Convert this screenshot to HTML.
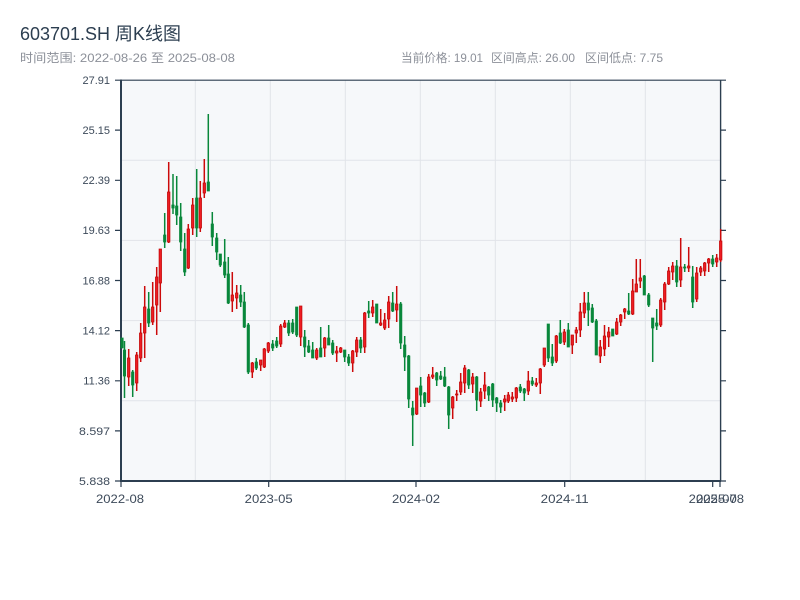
<!DOCTYPE html>
<html><head><meta charset="utf-8"><style>
html,body{margin:0;padding:0;background:#fff;}
svg{display:block;}
text{font-family:"Liberation Sans","Noto Sans CJK SC",sans-serif;}
</style></head><body>
<svg width="800" height="600" viewBox="0 0 800 600" xmlns="http://www.w3.org/2000/svg">
<rect width="800" height="600" fill="#fff"/>
<text x="20" y="40" font-size="18" fill="#2c3e50" textLength="161" lengthAdjust="spacingAndGlyphs">603701.SH 周K线图</text>
<text x="20" y="62" font-size="12" fill="#8c9099" textLength="215" lengthAdjust="spacingAndGlyphs">时间范围: 2022-08-26 至 2025-08-08</text>
<text x="401" y="62" font-size="12" fill="#8c9099" textLength="82" lengthAdjust="spacingAndGlyphs">当前价格: 19.01</text>
<text x="491" y="62" font-size="12" fill="#8c9099" textLength="84" lengthAdjust="spacingAndGlyphs">区间高点: 26.00</text>
<text x="585" y="62" font-size="12" fill="#8c9099" textLength="78" lengthAdjust="spacingAndGlyphs">区间低点: 7.75</text>
<rect x="121" y="80" width="600" height="401" fill="#f6f8fa"/>
<g stroke="#e1e4e9" stroke-width="1">
<path d="M195.3 80V481M270.3 80V481M345.3 80V481M420.3 80V481M495.3 80V481M570.3 80V481M645.3 80V481"/>
<path d="M121 160.2H720M121 240.4H720M121 320.6H720M121 400.8H720"/>
</g>
<g stroke="#2c3e50" fill="none">
<path d="M121 80.2H726" stroke-width="1.2"/>
<path d="M720.6 80V481" stroke-width="1.4"/>
<path d="M121 79.5V482M120 481H721" stroke-width="2"/>
<path d="M115 80.2H121M115 130.1H121M115 180.3H121M115 230.4H121M115 280.5H121M115 330.6H121M115 380.8H121M115 430.9H121M115 481H121" stroke-width="1.2"/>
<path d="M720 130.1H726M720 180.3H726M720 230.4H726M720 280.5H726M720 330.6H726M720 380.8H726M720 430.9H726M720 481H726" stroke-width="1.2"/>
<path d="M121 481V487M268.7 481V487M416 481V487M564.7 481V487M712.7 481V487M720 481V487" stroke-width="1.2"/>
</g>
<g font-size="11" fill="#3d4a5a" text-anchor="end">
<text x="110" y="84">27.91</text>
<text x="110" y="134">25.15</text>
<text x="110" y="184">22.39</text>
<text x="110" y="234">19.63</text>
<text x="110" y="284.5">16.88</text>
<text x="110" y="334.5">14.12</text>
<text x="110" y="384.5">11.36</text>
<text x="110" y="435" textLength="31" lengthAdjust="spacingAndGlyphs">8.597</text>
<text x="110" y="485" textLength="31" lengthAdjust="spacingAndGlyphs">5.838</text>
</g>
<g font-size="12" fill="#3d4a5a">
<text x="96" y="503" textLength="48" lengthAdjust="spacingAndGlyphs">2022-08</text>
<text x="244.7" y="503" textLength="48" lengthAdjust="spacingAndGlyphs">2023-05</text>
<text x="392" y="503" textLength="48" lengthAdjust="spacingAndGlyphs">2024-02</text>
<text x="540.7" y="503" textLength="48" lengthAdjust="spacingAndGlyphs">2024-11</text>
<text x="688.7" y="503" textLength="48" lengthAdjust="spacingAndGlyphs">2025-07</text>
<text x="696" y="503" textLength="48" lengthAdjust="spacingAndGlyphs">2025-08</text>
</g>
<path fill="none" stroke="#08873a" stroke-width="1.5" d="M122 338V348M124.5 341V398M132.7 370V397M148.7 292V327M164.7 213V248M173 174V214M176.7 176V225M180.7 203V251M184.7 233V276M196.7 169V237M208.3 114V191M212.3 212V246M216.7 233V260M220.3 254V267M224.7 239V278M228.3 257V304M240.7 285V307M244.3 292V328M248.3 323V374M256.3 358V370M272.7 340V351M276.7 337V348M288.7 320V336M292.7 319V334M296.7 307V337M304.7 330V357M308.7 340V353M312.7 342V358M320.7 327V357M328.7 325V345M332.7 340V355M344.7 350V362M348.7 354V366M360.7 337V353M368.7 301V318M376.7 304V323M392.7 292V312M400.7 302V349M404.7 336V371M408.7 355V408M412.7 401V446M420.7 377V407M424.7 392V407M436.7 372V386M440.7 371V380M444.7 367V387M448.7 386V429M468.7 369V389M476.7 376V411M488.7 386V401M492.7 383V407M496.7 397V412M500.7 400V413M520.3 384V393M524.3 388V401M532.3 377V386M548.3 324V362M552.3 344V366M560.3 320V344M568.3 323V347M588.3 292V326M592.3 304V323M596.3 319V355M612.7 329V336M628.7 293V315M644.3 275V295M648.7 293V307M652.7 318V362M656.7 309V330M676.7 260V287M684.7 264V272M692.7 266V308M712.7 255V267"/>
<path fill="#08873a" stroke="#08873a" stroke-width="0.7" d="M120.8 338h2.4V348h-2.4ZM123.3 350h2.4V376h-2.4ZM131.5 372h2.4V385h-2.4ZM147.5 309h2.4V323h-2.4ZM163.5 235h2.4V242h-2.4ZM171.8 205h2.4V208h-2.4ZM175.5 206h2.4V215h-2.4ZM179.5 217h2.4V242h-2.4ZM183.5 249h2.4V272h-2.4ZM195.5 198h2.4V228h-2.4ZM207.1 182h2.4V191h-2.4ZM211.1 224h2.4V237h-2.4ZM215.5 238h2.4V252h-2.4ZM219.1 254h2.4V265h-2.4ZM223.5 262h2.4V275h-2.4ZM227.1 274h2.4V303h-2.4ZM239.5 295h2.4V302h-2.4ZM243.1 302h2.4V327h-2.4ZM247.1 325h2.4V372h-2.4ZM255.1 362h2.4V368h-2.4ZM271.5 344h2.4V348h-2.4ZM275.5 341h2.4V346h-2.4ZM287.5 323h2.4V333h-2.4ZM291.5 323h2.4V332h-2.4ZM295.5 307h2.4V335h-2.4ZM303.5 337h2.4V347h-2.4ZM307.5 346h2.4V352h-2.4ZM311.5 350h2.4V358h-2.4ZM319.5 348h2.4V357h-2.4ZM327.5 338h2.4V345h-2.4ZM331.5 343h2.4V353h-2.4ZM343.5 350h2.4V357h-2.4ZM347.5 357h2.4V363h-2.4ZM359.5 340h2.4V348h-2.4ZM367.5 311h2.4V313h-2.4ZM375.5 304h2.4V323h-2.4ZM391.5 303h2.4V311h-2.4ZM399.5 304h2.4V343h-2.4ZM403.5 345h2.4V357h-2.4ZM407.5 356h2.4V399h-2.4ZM411.5 408h2.4V415h-2.4ZM419.5 386h2.4V395h-2.4ZM423.5 393h2.4V403h-2.4ZM435.5 373h2.4V380h-2.4ZM439.5 376h2.4V379h-2.4ZM443.5 377h2.4V386h-2.4ZM447.5 387h2.4V415h-2.4ZM467.5 370h2.4V385h-2.4ZM475.5 377h2.4V400h-2.4ZM487.5 387h2.4V395h-2.4ZM491.5 384h2.4V400h-2.4ZM495.5 398h2.4V403h-2.4ZM499.5 403h2.4V407h-2.4ZM519.1 387h2.4V391h-2.4ZM523.1 389h2.4V393h-2.4ZM531.1 381h2.4V384h-2.4ZM547.1 324h2.4V358h-2.4ZM551.1 357h2.4V363h-2.4ZM559.1 333h2.4V343h-2.4ZM567.1 330h2.4V347h-2.4ZM587.1 303h2.4V310h-2.4ZM591.1 308h2.4V322h-2.4ZM595.1 321h2.4V355h-2.4ZM611.5 329h2.4V336h-2.4ZM627.5 311h2.4V314h-2.4ZM643.1 276h2.4V295h-2.4ZM647.5 295h2.4V305h-2.4ZM651.5 318h2.4V328h-2.4ZM655.5 323h2.4V326h-2.4ZM675.5 266h2.4V282h-2.4ZM683.5 267h2.4V268h-2.4ZM691.5 277h2.4V302h-2.4ZM711.5 259h2.4V264h-2.4Z"/>
<path fill="none" stroke="#cc0a0a" stroke-width="1.5" d="M128.7 349V386M136.7 352V391M140.7 323V362M144.7 286V358M152.7 282V325M156.7 267V335M160.3 249V312M168.7 162V243M188.3 224V269M192.7 198V235M200.3 181V232M204.3 159V198M232.3 272V312M236.7 285V309M252.3 362V378M260.7 360V371M264.3 348V368M268.3 342V353M280.7 324V347M284.7 320V328M300.7 306V346M316.7 348V360M324.7 337V357M336.7 346V362M340.7 347V353M352.7 350V372M356.7 337V357M364.7 312V353M372.7 300V317M380.7 309V326M384.7 313V330M388.7 296V328M396.7 286V322M416.7 388V415M428.7 374V403M432.7 367V379M452.7 396V419M456.7 390V401M460.7 373V395M464.7 365V393M472.7 373V393M480.7 388V407M484.7 372V399M504.7 395V411M508.3 392V403M512.3 392V402M516.3 387V402M528.3 371V395M536.3 378V387M540.3 368V394M544.3 348V367M556.3 335V363M564.3 329V345M572.3 335V354M576.3 327V343M580.3 303V337M584.3 292V318M600.3 340V363M604.5 325V356M608.7 327V347M616.7 318V335M620.7 314V326M624.7 308V319M632.7 279V315M636.3 259V292M640.3 259V288M660.7 298V327M664.7 282V310M668.7 267V285M672.7 262V280M680.7 238V287M688.7 247V272M696.7 267V302M700.7 266V276M704.7 262V276M708.7 258V272M716.7 254V267M720.7 229V262"/>
<path fill="#ee1d23" stroke="#c40808" stroke-width="0.8" d="M127.5 358h2.4V377h-2.4ZM135.5 355h2.4V383h-2.4ZM139.5 333h2.4V358h-2.4ZM143.5 307h2.4V333h-2.4ZM151.5 307h2.4V322h-2.4ZM155.5 277h2.4V305h-2.4ZM159.1 249h2.4V283h-2.4ZM167.5 192h2.4V242h-2.4ZM187.1 229h2.4V268h-2.4ZM191.5 205h2.4V228h-2.4ZM199.1 198h2.4V228h-2.4ZM203.1 183h2.4V193h-2.4ZM231.1 295h2.4V301h-2.4ZM235.5 293h2.4V298h-2.4ZM251.1 363h2.4V372h-2.4ZM259.5 360h2.4V365h-2.4ZM263.1 349h2.4V367h-2.4ZM267.1 343h2.4V351h-2.4ZM279.5 326h2.4V344h-2.4ZM283.5 323h2.4V327h-2.4ZM299.5 306h2.4V337h-2.4ZM315.5 350h2.4V358h-2.4ZM323.5 338h2.4V348h-2.4ZM335.5 351h2.4V353h-2.4ZM339.5 348h2.4V352h-2.4ZM351.5 351h2.4V363h-2.4ZM355.5 340h2.4V352h-2.4ZM363.5 313h2.4V347h-2.4ZM371.5 307h2.4V313h-2.4ZM379.5 323h2.4V325h-2.4ZM383.5 320h2.4V328h-2.4ZM387.5 302h2.4V319h-2.4ZM395.5 304h2.4V310h-2.4ZM415.5 388h2.4V414h-2.4ZM427.5 377h2.4V402h-2.4ZM431.5 375h2.4V377h-2.4ZM451.5 397h2.4V408h-2.4ZM455.5 394h2.4V395h-2.4ZM459.5 382h2.4V392h-2.4ZM463.5 368h2.4V383h-2.4ZM471.5 377h2.4V384h-2.4ZM479.5 392h2.4V401h-2.4ZM483.5 385h2.4V391h-2.4ZM503.5 399h2.4V402h-2.4ZM507.1 395h2.4V401h-2.4ZM511.1 397h2.4V399h-2.4ZM515.1 388h2.4V398h-2.4ZM527.1 381h2.4V391h-2.4ZM535.1 383h2.4V385h-2.4ZM539.1 369h2.4V383h-2.4ZM543.1 348h2.4V365h-2.4ZM555.1 336h2.4V361h-2.4ZM563.1 332h2.4V342h-2.4ZM571.1 335h2.4V345h-2.4ZM575.1 330h2.4V333h-2.4ZM579.1 312h2.4V330h-2.4ZM583.1 303h2.4V313h-2.4ZM599.1 347h2.4V356h-2.4ZM603.3 336h2.4V349h-2.4ZM607.5 332h2.4V337h-2.4ZM615.5 322h2.4V334h-2.4ZM619.5 315h2.4V322h-2.4ZM623.5 309h2.4V312h-2.4ZM631.5 291h2.4V314h-2.4ZM635.1 284h2.4V292h-2.4ZM639.1 278h2.4V281h-2.4ZM659.5 300h2.4V325h-2.4ZM663.5 284h2.4V302h-2.4ZM667.5 271h2.4V284h-2.4ZM671.5 266h2.4V272h-2.4ZM679.5 267h2.4V280h-2.4ZM687.5 266h2.4V268h-2.4ZM695.5 273h2.4V299h-2.4ZM699.5 268h2.4V272h-2.4ZM703.5 263h2.4V271h-2.4ZM707.5 259h2.4V263h-2.4ZM715.5 258h2.4V262h-2.4ZM719.5 241h2.4V260h-2.4Z"/>
</svg>
</body></html>
